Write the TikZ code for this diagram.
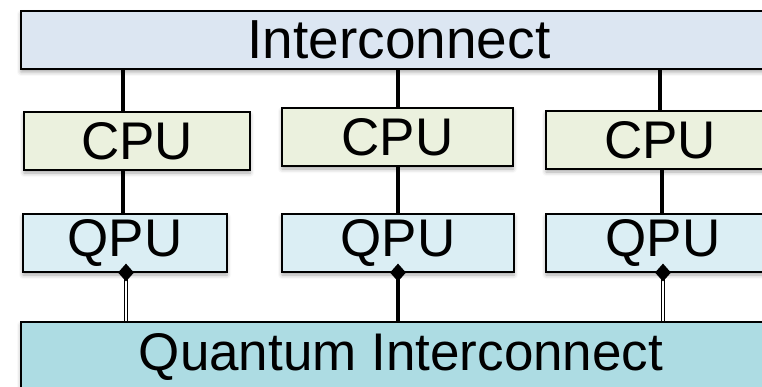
\documentclass[tikz,border=0pt]{standalone}
\usepackage{fontspec}
\setmainfont{Liberation Sans}
\usetikzlibrary{shapes.geometric,shadows.blur}

\definecolor{icblue}{RGB}{220,230,242}
\definecolor{cpugreen}{RGB}{235,241,222}
\definecolor{qpublue}{RGB}{219,238,244}
\definecolor{qicyan}{RGB}{173,220,227}

\begin{document}
\begin{tikzpicture}[x=1pt,y=-1pt]

\tikzset{BoxStyle/.style = {draw=black, line width=1.1pt, inner sep=0pt,
    minimum height=58pt, font=\fontsize{53}{60}\selectfont,
    blur shadow={shadow xshift=0pt, shadow yshift=-3pt,
      shadow blur radius=4pt, shadow opacity=35}}}
\tikzset{LinkStyle/.style = {draw=black, line width=4pt}}
\tikzset{QLinkStyle/.style = {draw=black, line width=1pt, double=white, double distance=2pt}}
\tikzset{JointStyle/.style = {diamond, fill=black, inner sep=0pt, minimum width=16pt, minimum height=18pt}}

\useasboundingbox (0,0) rectangle (762,387);
\clip (0,0) rectangle (762,387);

\node[BoxStyle, fill=icblue, minimum width=756pt, font=\fontsize{55}{60}\selectfont] (ic) at (399,40) {Interconnect};

\node[BoxStyle, fill=cpugreen, minimum width=226pt] (cpu1) at (137,141) {CPU};
\node[BoxStyle, fill=cpugreen, minimum width=231pt] (cpu2) at (397.5,137) {CPU};
\node[BoxStyle, fill=cpugreen, minimum width=228pt] (cpu3) at (660,140) {CPU};

\node[BoxStyle, fill=qpublue, minimum width=204pt] (qpu1) at (125,243) {QPU};
\node[BoxStyle, fill=qpublue, minimum width=232pt] (qpu2) at (398,243) {QPU};
\node[BoxStyle, fill=qpublue, minimum width=234pt] (qpu3) at (663,243) {QPU};

\node[BoxStyle, fill=qicyan, minimum width=760pt, minimum height=70pt] (qic) at (401,357) {Quantum Interconnect};

% classical links
\draw[LinkStyle] (ic.south -| 123,0) -- (cpu1.north -| 123,0);
\draw[LinkStyle] (ic.south -| 398,0) -- (cpu2.north -| 398,0);
\draw[LinkStyle] (ic.south -| 660,0) -- (cpu3.north -| 660,0);

\draw[LinkStyle] (cpu1.south -| 123,0) -- (qpu1.north -| 123,0);
\draw[LinkStyle] (cpu2.south -| 398,0) -- (qpu2.north -| 398,0);
\draw[LinkStyle] (cpu3.south -| 662,0) -- (qpu3.north -| 662,0);

% quantum links
\draw[QLinkStyle] (qpu1.south -| 126,0) -- (qic.north -| 126,0);
\draw[LinkStyle] (qpu2.south -| 398,0) -- (qic.north -| 398,0);
\draw[QLinkStyle] (qpu3.south -| 663,0) -- (qic.north -| 663,0);

\node[JointStyle] (j1) at (qpu1.south -| 126,0) {};
\node[JointStyle] (j2) at (qpu2.south -| 398,0) {};
\node[JointStyle] (j3) at (qpu3.south -| 663,0) {};

\end{tikzpicture}
\end{document}
